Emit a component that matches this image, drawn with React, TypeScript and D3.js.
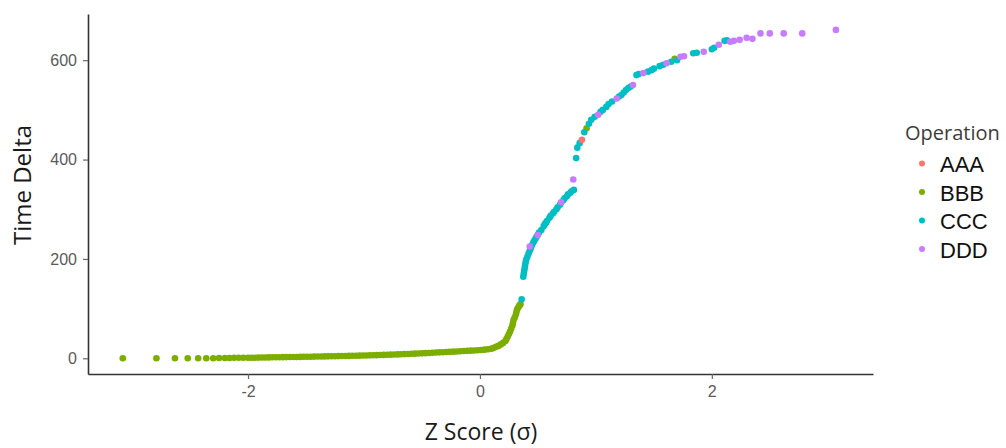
import React, { useEffect, useRef } from 'react';
import * as d3 from 'd3';

// z score (theoretical quantile) and time delta
const bbbPoints: [number, number][] = [
  [-3.08, 0], [-2.79, 0], [-2.63, 0], [-2.52, 0], [-2.43, 0], [-2.36, 0], [-2.3, 0], [-2.25, 0.5],
  [-2.2, 0.5], [-2.16, 0.5], [-2.12, 1], [-2.08, 1], [-2.04, 1], [-2.0, 1],
  [-1.97, 1.1], [-1.94, 1.2], [-1.91, 1.4], [-1.88, 1.5], [-1.85, 1.7], [-1.82, 1.8], [-1.79, 2],
  [-1.76, 2.1], [-1.73, 2.2], [-1.7, 2.3], [-1.67, 2.4], [-1.64, 2.5], [-1.61, 2.6], [-1.58, 2.7],
  [-1.55, 2.8], [-1.52, 3], [-1.49, 3.1], [-1.46, 3.2], [-1.43, 3.4], [-1.4, 3.5], [-1.37, 3.6],
  [-1.34, 3.8], [-1.31, 3.9], [-1.28, 4.1], [-1.25, 4.2], [-1.22, 4.4], [-1.19, 4.5], [-1.16, 4.7],
  [-1.13, 4.8], [-1.1, 5], [-1.07, 5.1], [-1.04, 5.3], [-1.01, 5.5], [-0.98, 5.7], [-0.95, 5.9],
  [-0.92, 6.1], [-0.89, 6.3], [-0.86, 6.5], [-0.83, 6.8], [-0.8, 7], [-0.77, 7.3], [-0.74, 7.6],
  [-0.71, 7.9], [-0.68, 8.2], [-0.65, 8.5], [-0.62, 8.8], [-0.59, 9.1], [-0.56, 9.4], [-0.53, 9.7],
  [-0.5, 10], [-0.47, 10.4], [-0.44, 10.8], [-0.41, 11.2], [-0.38, 11.6], [-0.35, 12], [-0.32, 12.3],
  [-0.29, 12.7], [-0.26, 13], [-0.23, 13.4], [-0.2, 13.8], [-0.17, 14.2], [-0.14, 14.6], [-0.11, 15],
  [-0.08, 15.4], [-0.05, 15.8], [-0.02, 16.3], [0.01, 16.8], [0.04, 17.4], [0.07, 18.2], [0.1, 19.4],
  [0.12, 21], [0.14, 23], [0.16, 25], [0.18, 28], [0.2, 31], [0.22, 35], [0.23, 39], [0.24, 44],
  [0.25, 49], [0.26, 54], [0.27, 60], [0.28, 66], [0.285, 71], [0.29, 77], [0.3, 82], [0.31, 88],
  [0.315, 93], [0.32, 98], [0.33, 102], [0.34, 106], [0.35, 109],
  [0.92, 463], [1.68, 603],
];

const cccPoints: [number, number][] = [
  [0.36, 119],
  [0.374, 164], [0.378, 170], [0.382, 176], [0.386, 182], [0.39, 188], [0.395, 194], [0.4, 199],
  [0.41, 205], [0.42, 211], [0.43, 217], [0.44, 222], [0.45, 228], [0.46, 233], [0.47, 237],
  [0.48, 241], [0.49, 245], [0.5, 249], [0.51, 253], [0.53, 258], [0.55, 266], [0.56, 270],
  [0.57, 273], [0.58, 277], [0.6, 283], [0.61, 287], [0.63, 292], [0.64, 295], [0.66, 300],
  [0.67, 304], [0.69, 309], [0.7, 313], [0.72, 318], [0.73, 322], [0.75, 326], [0.76, 330],
  [0.78, 333], [0.79, 336], [0.81, 339],
  [0.83, 403], [0.84, 424], [0.86, 433], [0.9, 455], [0.94, 472], [0.96, 480], [0.99, 486],
  [1.04, 496], [1.06, 500], [1.09, 506], [1.11, 512], [1.14, 517], [1.2, 527], [1.22, 530],
  [1.24, 535], [1.26, 540], [1.28, 544], [1.3, 547], [1.35, 570], [1.37, 572], [1.45, 577],
  [1.48, 580], [1.5, 583], [1.55, 588], [1.58, 591], [1.65, 597], [1.7, 600], [1.84, 614],
  [1.87, 615], [2.0, 622], [2.02, 625], [2.11, 639], [2.13, 640],
];

const dddPoints: [number, number][] = [
  [0.43, 225], [0.5, 248], [0.7, 314], [0.805, 360], [1.02, 490], [1.18, 523], [1.32, 550],
  [1.41, 574], [1.61, 594], [1.73, 607], [1.76, 608], [1.93, 617], [2.06, 631], [2.16, 637],
  [2.19, 639], [2.24, 641], [2.3, 645], [2.35, 643], [2.42, 654], [2.5, 654], [2.62, 654],
  [2.78, 654], [3.07, 661],
];

const aaaPoints: [number, number][] = [[0.88, 440]];

const operations = ['AAA', 'BBB', 'CCC', 'DDD'];
const colors = ['#F8766D', '#7CAE00', '#00BFC4', '#C77CFF'];
const xTicks = [-2, 0, 2];
const yTicks = [0, 200, 400, 600];

function App() {
  const ref = useRef<SVGSVGElement>(null);

  useEffect(() => {
    const svg = d3.select(ref.current);
    svg.selectAll('*').remove();

    const x = d3.scaleLinear().domain([-3.38, 3.39]).range([88, 873]);
    const y = d3.scaleLinear().domain([-31.6, 693]).range([374, 14]);
    const color = d3.scaleOrdinal<string, string>().domain(operations).range(colors);

    // axes
    const xAxis = svg.append('g')
      .attr('transform', 'translate(0,374)')
      .call(d3.axisBottom(x).tickValues(xTicks).tickFormat(d => `${d}`)
        .tickSize(5).tickSizeOuter(0).tickPadding(7));
    const yAxis = svg.append('g')
      .attr('transform', 'translate(88,0)')
      .call(d3.axisLeft(y).tickValues(yTicks).tickFormat(d => `${d}`)
        .tickSize(5).tickSizeOuter(0).tickPadding(6));

    [xAxis, yAxis].forEach(g => {
      g.select('.domain').attr('stroke', '#333').attr('stroke-width', 1.6);
      g.selectAll('.tick line').attr('stroke', '#666').attr('stroke-width', 1.2);
      g.selectAll('.tick text')
        .attr('fill', '#5a5a5a')
        .style('font-family', '"Liberation Sans", Arial, sans-serif')
        .style('font-size', '16px');
    });

    // points
    const series: [string, [number, number][]][] = [
      ['BBB', bbbPoints],
      ['CCC', cccPoints],
      ['DDD', dddPoints],
      ['AAA', aaaPoints],
    ];
    series.forEach(([op, pts]) => {
      svg.append('g')
        .selectAll('circle')
        .data(pts)
        .enter()
        .append('circle')
        .attr('cx', d => x(d[0]))
        .attr('cy', d => y(d[1]))
        .attr('r', 3.3)
        .attr('fill', color(op));
    });

    // axis titles
    svg.append('text')
      .attr('x', 481)
      .attr('y', 440)
      .attr('text-anchor', 'middle')
      .style('font-family', '"Open Sans", sans-serif')
      .style('font-size', '23px')
      .attr('fill', '#1a1a1a')
      .text('Z Score (σ)');

    svg.append('text')
      .attr('transform', 'translate(31,185) rotate(-90)')
      .attr('text-anchor', 'middle')
      .style('font-family', '"Open Sans", sans-serif')
      .style('font-size', '24px')
      .attr('fill', '#1a1a1a')
      .text('Time Delta');

    // legend
    const legend = svg.append('g');
    legend.append('text')
      .attr('x', 905)
      .attr('y', 140)
      .style('font-family', '"Open Sans", sans-serif')
      .style('font-size', '20px')
      .attr('fill', '#3c3c3c')
      .text('Operation');

    const items = legend.selectAll('g.item')
      .data(operations)
      .enter()
      .append('g')
      .attr('class', 'item')
      .attr('transform', (d, i) => `translate(0,${172 + i * 28.5})`);
    items.append('circle')
      .attr('cx', 922)
      .attr('cy', -8.5)
      .attr('r', 3)
      .attr('fill', d => color(d));
    items.append('text')
      .attr('x', 940)
      .attr('y', 0)
      .style('font-family', '"Liberation Sans", Arial, sans-serif')
      .style('font-size', '22px')
      .attr('fill', '#111')
      .text(d => d);
  }, []);

  return (
    <svg
      ref={ref}
      width={1006}
      height={448}
      style={{ position: 'absolute', left: 0, top: 0, background: '#fff' }}
    />
  );
}

export default App;
